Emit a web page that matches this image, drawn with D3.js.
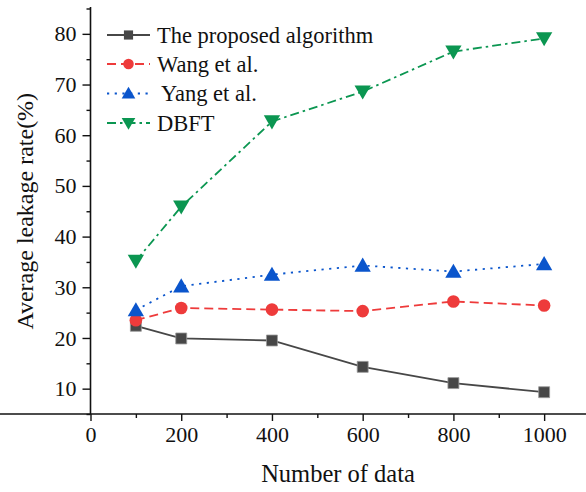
<!DOCTYPE html>
<html>
<head>
<meta charset="utf-8">
<script src="https://cdn.jsdelivr.net/npm/d3@7"></script>
<style>
  body { margin: 0; background: #fff; }
  svg, svg text { font-family: "Liberation Serif", "Times New Roman", serif; }
  svg { display: block; }
</style>
</head>
<body>
<svg id="chart" width="586" height="492"></svg>
<script>
// data
const dataSizes = [100, 200, 400, 600, 800, 1000];
const proposed = [22.4, 19.9, 19.5, 14.3, 11.1, 9.3];
const wang = [23.5, 25.9, 25.6, 25.3, 27.2, 26.4];
const yang = [25.5, 30.2, 32.5, 34.3, 33.1, 34.6];
const dbft = [35.2, 45.9, 62.7, 68.6, 76.5, 79.1];

const xTicks = [0, 200, 400, 600, 800, 1000];
const xMinor = [100, 300, 500, 700, 900];
const yTicks = [10, 20, 30, 40, 50, 60, 70, 80];
const yMinor = [5, 15, 25, 35, 45, 55, 65, 75, 85];

const FONT = "'Liberation Serif', 'Times New Roman', serif";
const svg = d3.select("#chart");

// scales
const x = d3.scaleLinear().domain([0, 1100]).range([90.5, 589.5]);
const y = d3.scaleLinear().domain([5, 85]).range([414, 8.5]);

// axes
const axisG = svg.append("g");
const xAxis = axisG.append("g").attr("transform", `translate(0, ${y(5)})`)
    .call(d3.axisBottom(x).tickValues(xTicks).tickSize(7).tickPadding(5).tickFormat(d3.format("d")));
const xAxisMinor = axisG.append("g").attr("transform", `translate(0, ${y(5)})`)
    .call(d3.axisBottom(x).tickValues(xMinor).tickSize(4).tickFormat(""));
const yAxis = axisG.append("g").attr("transform", `translate(${x(0)}, 0)`)
    .call(d3.axisLeft(y).tickValues(yTicks).tickSize(8).tickPadding(6).tickFormat(d3.format("d")));
const yAxisMinor = axisG.append("g").attr("transform", `translate(${x(0)}, 0)`)
    .call(d3.axisLeft(y).tickValues(yMinor).tickSize(4).tickFormat(""));

axisG.selectAll("g").attr("font-family", FONT).attr("font-size", 22);
axisG.selectAll(".domain").attr("stroke", "#111").attr("stroke-width", 1.6);
axisG.selectAll(".tick line").attr("stroke", "#111").attr("stroke-width", 1.4);
axisG.selectAll(".tick text").attr("fill", "#111");
// no outer caps on the axis lines
yAxisMinor.select(".domain").remove();
xAxisMinor.select(".domain").remove();
yAxis.select(".domain").attr("d", `M0,${y(85) - 1.5}V${y(5)}`);
xAxis.select(".domain").attr("d", `M0,0H${x(1100)}`);

// axis titles
svg.append("text")
    .attr("x", 338).attr("y", 482)
    .attr("text-anchor", "middle")
    .attr("font-family", FONT)
    .attr("font-size", 24.5)
    .attr("fill", "#111")
    .text("Number of data");
svg.append("text")
    .attr("transform", `translate(33, ${(y(5) + y(85)) / 2}) rotate(-90)`)
    .attr("text-anchor", "middle")
    .attr("font-family", FONT)
    .attr("font-size", 24)
    .attr("fill", "#111")
    .text("Average leakage rate(%)");

// series
const series = [
    { name: "The proposed algorithm", values: proposed, color: "#474747", dash: null, marker: d3.symbolSquare, size: 120, rot: 0, stroke: "#999" },
    { name: "Wang et al.", values: wang, color: "#ee3b3b", dash: "9,5", marker: d3.symbolCircle, size: 125, rot: 0, stroke: "none" },
    { name: "Yang et al.", values: yang, color: "#0a55cc", dash: "2.2,5.5", marker: d3.symbolTriangle, size: 115, rot: 0, stroke: "none" },
    { name: "DBFT", values: dbft, color: "#0b9651", dash: "9,4,2.5,4", marker: d3.symbolTriangle, size: 115, rot: 180, stroke: "none" }
];

const line = d3.line().x(d => x(d[0])).y(d => y(d[1]));
const plot = svg.append("g");

series.forEach(s => {
    const pts = dataSizes.map((n, i) => [n, s.values[i]]);
    plot.append("path")
        .datum(pts)
        .attr("d", line)
        .attr("fill", "none")
        .attr("stroke", s.color)
        .attr("stroke-width", 1.8)
        .attr("stroke-dasharray", s.dash);
});
series.forEach(s => {
    const pts = dataSizes.map((n, i) => [n, s.values[i]]);
    plot.selectAll(null)
        .data(pts)
        .join("path")
        .attr("d", d3.symbol().type(s.marker).size(s.size))
        .attr("transform", d => `translate(${x(d[0])}, ${y(d[1]) + (s.marker === d3.symbolTriangle ? (s.rot ? -1.5 : 1.5) : 0)}) rotate(${s.rot})`)
        .attr("fill", s.color)
        .attr("stroke", s.stroke)
        .attr("stroke-width", 0.8);
});

// legend
const legendRows = [35, 64, 93.5, 123];
const legend = svg.append("g");
series.forEach((s, i) => {
    const cy = legendRows[i];
    const g = legend.append("g");
    g.append("line")
        .attr("x1", 107).attr("x2", 150)
        .attr("y1", cy).attr("y2", cy)
        .attr("stroke", s.color)
        .attr("stroke-width", 1.8)
        .attr("stroke-dasharray", s.dash);
    g.append("path")
        .attr("d", d3.symbol().type(s.marker).size(s.size * 0.7))
        .attr("transform", `translate(128.5, ${cy + (s.marker === d3.symbolTriangle ? (s.rot ? -1 : 1) : 0)}) rotate(${s.rot})`)
        .attr("fill", s.color);
    g.append("text")
        .attr("x", i === 2 ? 161 : 157)
        .attr("y", cy + 7.5)
        .attr("font-family", FONT)
        .attr("font-size", 22.5)
        .attr("fill", "#111")
        .text(s.name);
});
</script>
</body>
</html>
